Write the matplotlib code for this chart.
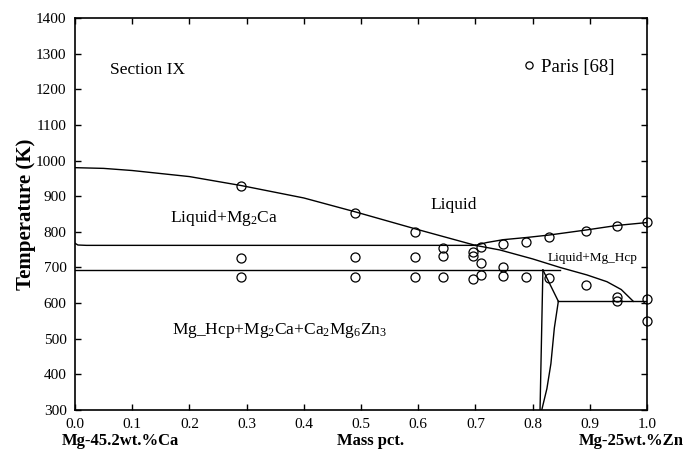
import matplotlib
matplotlib.use("Agg")
import matplotlib.pyplot as plt

plt.rcParams['font.family'] = ['Liberation Serif', 'DejaVu Serif']
plt.rcParams['mathtext.fontset'] = 'custom'
plt.rcParams['mathtext.rm'] = 'Liberation Serif'
plt.rcParams['mathtext.it'] = 'Liberation Serif:italic'

# ---- calculated phase boundaries ----
liq_ca_x = [0.0, 0.05, 0.1, 0.2, 0.29, 0.4, 0.49, 0.6, 0.7]
liq_ca_T = [980, 978, 972, 955, 930, 895, 856, 806, 762]

eut_up_x = [0.0, 0.005, 0.02, 0.70]
eut_up_T = [768, 763, 762, 762]

eut_low_x = [0.0, 0.848]
eut_low_T = [693, 693]

liq_hcp_x = [0.70, 0.743, 0.80, 0.848, 0.895, 0.93, 0.955, 0.976]
liq_hcp_T = [762, 749, 724, 700, 679, 660, 638, 605]

liq_zn_x = [0.70, 0.72, 0.749, 0.789, 0.829, 0.893, 0.948, 1.0]
liq_zn_T = [762, 770, 778, 784, 791, 805, 818, 826]

vert_x = [0.818, 0.813]
vert_T = [693, 300]

slant_x = [0.818, 0.845]
slant_T = [693, 605]

curve_x = [0.845, 0.838, 0.832, 0.825, 0.816]
curve_T = [605, 530, 430, 360, 300]

eut_zn_x = [0.845, 1.0]
eut_zn_T = [605, 605]

# ---- experimental points (Paris [68]) ----
exp_x = [0.29, 0.49, 0.594, 0.643, 0.643, 0.696, 0.696, 0.710, 0.710,
         0.29, 0.49, 0.594,
         0.29, 0.49, 0.594, 0.643, 0.696, 0.710,
         0.749, 0.789, 0.829, 0.893, 0.948, 1.0,
         0.749, 0.749, 0.789, 0.829, 0.893, 0.948, 0.948, 1.0, 1.0]
exp_T = [928, 853, 799, 755, 732, 743, 732, 757, 712,
         726, 729, 729,
         673, 673, 673, 673, 668, 679,
         766, 771, 785, 802, 816, 827,
         701, 676, 673, 670, 651, 617, 606, 611, 550]

xticks = [0.0, 0.1, 0.2, 0.3, 0.4, 0.5, 0.6, 0.7, 0.8, 0.9, 1.0]
yticks = list(range(300, 1401, 100))

fig = plt.figure(figsize=(6.87, 4.5), dpi=100)
ax = fig.add_axes([75/687, 40/450, 572/687, 392/450])

lw = 1.0
for xs, ts in [(liq_ca_x, liq_ca_T), (eut_up_x, eut_up_T), (eut_low_x, eut_low_T),
               (liq_hcp_x, liq_hcp_T), (liq_zn_x, liq_zn_T), (vert_x, vert_T),
               (slant_x, slant_T), (curve_x, curve_T), (eut_zn_x, eut_zn_T)]:
    ax.plot(xs, ts, color='black', lw=lw)

ax.plot(exp_x, exp_T, linestyle='none', marker='o', markersize=6.5,
        markerfacecolor='none', markeredgecolor='black', markeredgewidth=0.9,
        label='Paris [68]', clip_on=False)

ax.set_xlim(0, 1.0)
ax.set_ylim(300, 1400)
ax.set_xticks(xticks)
ax.set_xticklabels([f"{v:.1f}" for v in xticks])
ax.set_yticks(yticks)
ax.tick_params(direction='in', top=True, right=True, labelsize=11, length=4,
               width=1.0, pad=6)
for s in ax.spines.values():
    s.set_linewidth(1.2)

ax.set_ylabel('Temperature (K)', fontsize=15, fontweight='bold', labelpad=0)

leg = ax.legend(loc='upper left', bbox_to_anchor=(0.755, 0.93), frameon=False,
                fontsize=13.5, handletextpad=0.1, handlelength=1.0,
                markerscale=0.8, borderpad=0.2)

ax.text(0.061, 1254, 'Section IX', fontsize=12.5, va='center')
ax.text(0.166, 839, r'Liquid+Mg$_2$Ca', fontsize=12.5, va='center')
ax.text(0.662, 875, 'Liquid', fontsize=12.5, va='center', ha='center')
ax.text(0.826, 727, 'Liquid+Mg_Hcp', fontsize=9.5, va='center')
ax.text(0.17, 524, r'Mg_Hcp+Mg$_2$Ca+Ca$_2$Mg$_6$Zn$_3$', fontsize=12.5, va='center')

fig.text(62/687, 1 - 441/450, 'Mg-45.2wt.%Ca', fontsize=12, fontweight='bold',
         ha='left', va='center')
fig.text(371/687, 1 - 441/450, 'Mass pct.', fontsize=12, fontweight='bold',
         ha='center', va='center')
fig.text(684/687, 1 - 441/450, 'Mg-25wt.%Zn', fontsize=12, fontweight='bold',
         ha='right', va='center')

fig.savefig('out.png', dpi=100)
